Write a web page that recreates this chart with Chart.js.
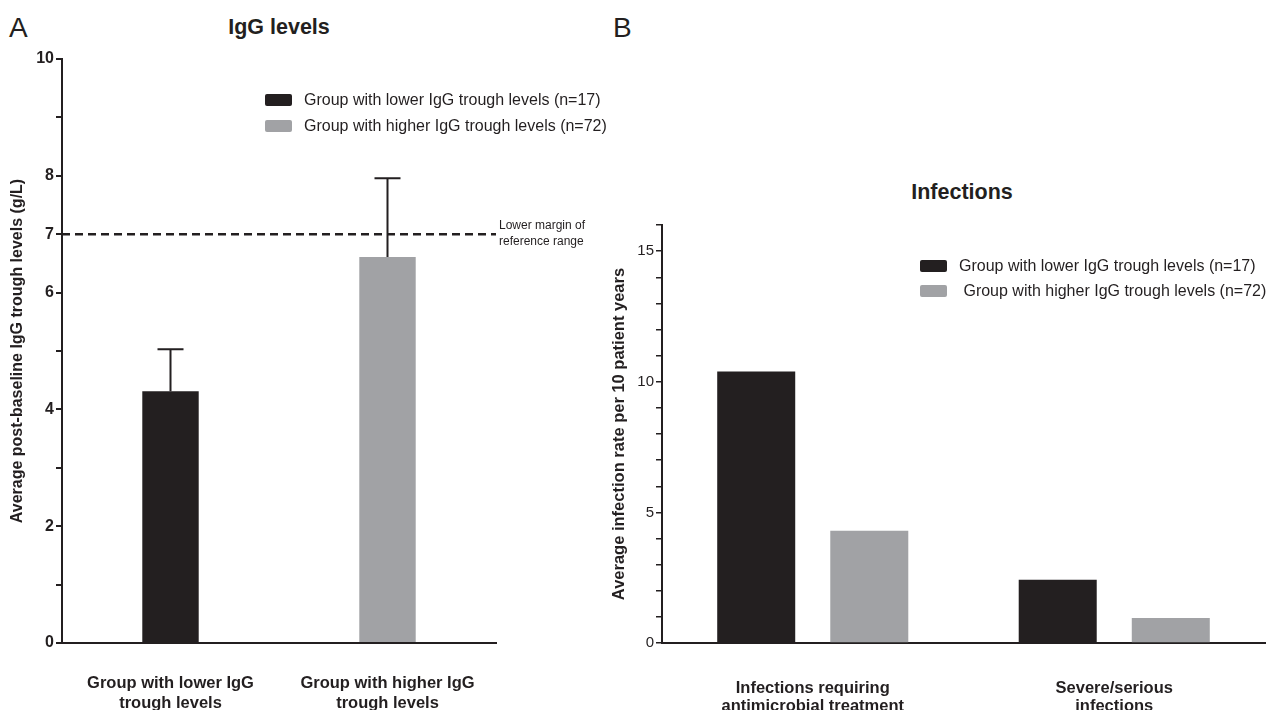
<!DOCTYPE html>
<html>
<head>
<meta charset="utf-8">
<script src="https://cdn.jsdelivr.net/npm/chart.js@4.4.0/dist/chart.umd.min.js"></script>
<style>
  body { margin: 0; background: #fff; width: 1268px; height: 710px; overflow: hidden; position: relative; font-family: "Liberation Sans", Arial, sans-serif; color: #231f20; }
  .panel { position: absolute; top: 0; height: 710px; }
  .letter { position: absolute; font-size: 28px; line-height: 28px; }
  .ttl { position: absolute; font-size: 21.5px; font-weight: bold; transform: translate(-50%, -50%); white-space: nowrap; }
</style>
</head>
<body>
<div class="letter" style="left:9px;top:14px">A</div>
<div class="letter" style="left:613px;top:14px">B</div>
<div class="ttl" style="left:279px;top:27px">IgG levels</div>
<div class="ttl" style="left:962px;top:192px">Infections</div>
<div class="panel" style="left:0;width:610px"><canvas id="chartA"></canvas></div>
<div class="panel" style="left:610px;width:658px"><canvas id="chartB"></canvas></div>
<script>
//data
var seriesNames = ['Group with lower IgG trough levels (n=17)', ' Group with higher IgG trough levels (n=72)'];
var seriesColors = ['#231f20', '#a1a2a5'];

//panel A - IgG levels
var igGroups = [['Group with lower IgG', 'trough levels'], ['Group with higher IgG', 'trough levels']];
var igMeans = [4.31, 6.61];
var igErrTop = [5.03, 7.96];
var igTicks = [0, 1, 2, 3, 4, 5, 6, 7, 8, 9, 10];
var igTickLabels = [0, 2, 4, 6, 7, 8, 10];
var refLevel = 7;
var refText = ['Lower margin of', 'reference range'];

//panel B - infections
var infCats = [['Infections requiring', 'antimicrobial treatment'], ['Severe/serious', 'infections']];
var lowerRates = [10.39, 2.42];
var higherRates = [4.30, 0.96];
var infTicks = [];
for (var t = 0; t <= 16; t++) infTicks.push(t);
var infTickLabels = [0, 5, 10, 15];

Chart.defaults.font.family = '"Liberation Sans", Arial, sans-serif';
Chart.defaults.color = '#231f20';
var ink = '#231f20';

function drawLegend(ctx, x, y, gap, names) {
  ctx.save();
  ctx.font = '16px "Liberation Sans", Arial, sans-serif';
  ctx.textBaseline = 'middle';
  ctx.textAlign = 'left';
  for (var i = 0; i < names.length; i++) {
    var yy = y + i * gap;
    ctx.fillStyle = seriesColors[i];
    ctx.beginPath();
    ctx.roundRect(x, yy - 6, 27, 12, 2);
    ctx.fill();
    ctx.fillStyle = '#231f20';
    ctx.fillText(names[i], x + 39, yy + 1);
  }
  ctx.restore();
}

var extrasA = {
  id: 'extrasA',
  afterDatasetsDraw: function (chart) {
    var ctx = chart.ctx, xs = chart.scales.x, ys = chart.scales.y, area = chart.chartArea;
    ctx.save();
    //error bars
    ctx.strokeStyle = ink;
    ctx.lineWidth = 2;
    for (var i = 0; i < igMeans.length; i++) {
      var cx = xs.getPixelForValue(i);
      var y0 = ys.getPixelForValue(igMeans[i]);
      var y1 = ys.getPixelForValue(igErrTop[i]);
      ctx.beginPath();
      ctx.moveTo(cx, y0);
      ctx.lineTo(cx, y1);
      ctx.moveTo(cx - 13, y1);
      ctx.lineTo(cx + 13, y1);
      ctx.stroke();
    }
    //reference line
    var yr = ys.getPixelForValue(refLevel);
    ctx.setLineDash([8, 5]);
    ctx.lineWidth = 2.5;
    ctx.beginPath();
    ctx.moveTo(area.left, yr);
    ctx.lineTo(area.right, yr);
    ctx.stroke();
    ctx.setLineDash([]);
    ctx.fillStyle = ink;
    ctx.font = '12px "Liberation Sans", Arial, sans-serif';
    ctx.textBaseline = 'middle';
    ctx.fillText(refText[0], area.right + 3, yr - 9);
    ctx.fillText(refText[1], area.right + 3, yr + 7);
    ctx.restore();
    drawLegend(ctx, 265, 100, 26, [seriesNames[0], seriesNames[1].trim()]);
  }
};

var extrasB = {
  id: 'extrasB',
  afterDatasetsDraw: function (chart) {
    drawLegend(chart.ctx, 310, 266, 25, seriesNames);
  }
};

new Chart(document.getElementById('chartA'), {
  type: 'bar',
  data: {
    labels: igGroups,
    datasets: [{
      data: igMeans,
      backgroundColor: seriesColors,
      borderWidth: 0,
      barPercentage: 0.26,
      categoryPercentage: 1
    }]
  },
  options: {
    responsive: true,
    maintainAspectRatio: false,
    animation: false,
    layout: { padding: { top: 59, right: 114, left: 0, bottom: 0 } },
    plugins: { legend: { display: false }, tooltip: { enabled: false } },
    scales: {
      x: {
        grid: { display: false, drawTicks: false },
        border: { display: true, color: ink, width: 2 },
        ticks: { padding: 31, font: { size: 16.5, weight: 'bold', lineHeight: 1.18 }, color: ink, maxRotation: 0, autoSkip: false },
        afterFit: function (s) { s.height = 67; }
      },
      y: {
        min: 0,
        max: 10,
        afterBuildTicks: function (s) { s.ticks = igTicks.map(function (v) { return { value: v }; }); },
        grid: { drawOnChartArea: false, drawTicks: true, tickLength: 6, color: ink, lineWidth: 2 },
        border: { display: true, color: ink, width: 2 },
        ticks: {
          autoSkip: false,
          padding: 2,
          color: ink,
          font: { size: 16, weight: 'bold' },
          callback: function (v) { return igTickLabels.indexOf(v) >= 0 ? String(v) : ''; }
        },
        title: { display: true, text: 'Average post-baseline IgG trough levels (g/L)', color: ink, font: { size: 16, weight: 'bold' }, padding: { top: 8, bottom: 0 } },
        afterFit: function (s) { s.width = 62; }
      }
    }
  },
  plugins: [extrasA]
});

new Chart(document.getElementById('chartB'), {
  type: 'bar',
  data: {
    labels: infCats,
    datasets: [{
      label: seriesNames[0],
      data: lowerRates,
      backgroundColor: seriesColors[0],
      borderWidth: 0,
      barPercentage: 0.69,
      categoryPercentage: 0.75
    }, {
      label: seriesNames[1],
      data: higherRates,
      backgroundColor: seriesColors[1],
      borderWidth: 0,
      barPercentage: 0.69,
      categoryPercentage: 0.75
    }]
  },
  options: {
    responsive: true,
    maintainAspectRatio: false,
    animation: false,
    layout: { padding: { top: 225, right: 3, left: 0, bottom: 0 } },
    plugins: { legend: { display: false }, tooltip: { enabled: false } },
    scales: {
      x: {
        grid: { display: false, drawTicks: false },
        border: { display: true, color: ink, width: 2 },
        ticks: { padding: 36, font: { size: 16.5, weight: 'bold', lineHeight: 1.12 }, color: ink, maxRotation: 0, autoSkip: false },
        afterFit: function (s) { s.height = 67; }
      },
      y: {
        min: 0,
        max: 16,
        afterBuildTicks: function (s) { s.ticks = infTicks.map(function (v) { return { value: v }; }); },
        grid: { drawOnChartArea: false, drawTicks: true, tickLength: 6, color: ink, lineWidth: 1.5 },
        border: { display: true, color: ink, width: 2 },
        ticks: {
          autoSkip: false,
          padding: 2,
          color: ink,
          font: { size: 15 },
          callback: function (v) { return infTickLabels.indexOf(v) >= 0 ? String(v) : ''; }
        },
        title: { display: true, text: 'Average infection rate per 10 patient years', color: ink, font: { size: 16.5, weight: 'bold' }, padding: { top: 0, bottom: 0 } },
        afterFit: function (s) { s.width = 52; }
      }
    }
  },
  plugins: [extrasB]
});
</script>
</body>
</html>
